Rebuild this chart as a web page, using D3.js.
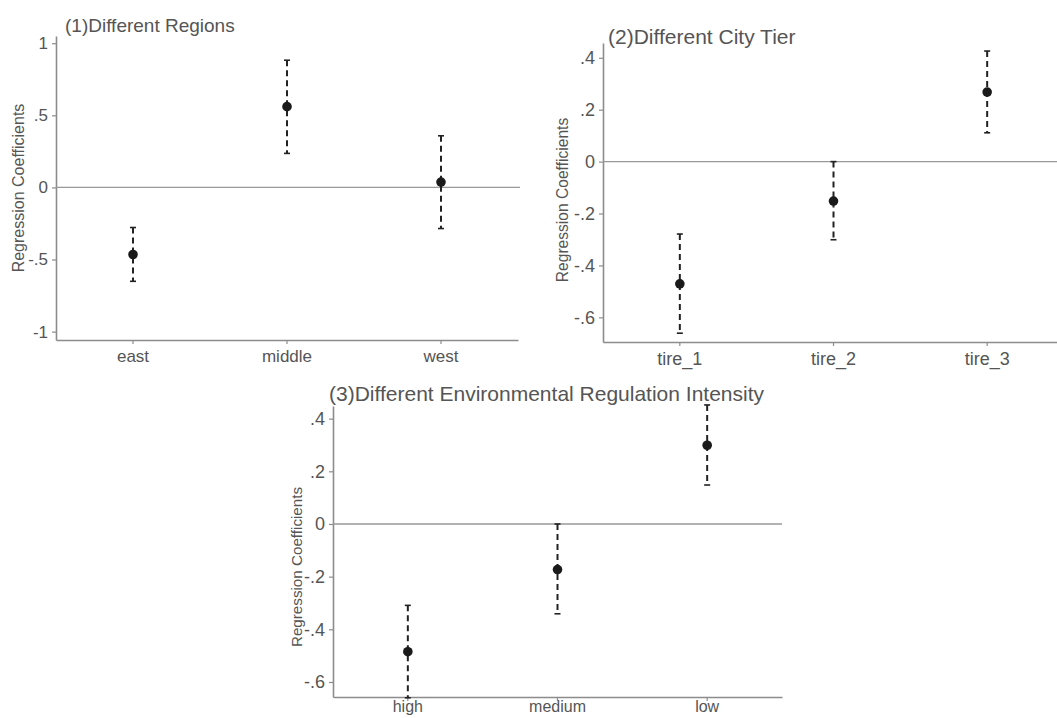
<!DOCTYPE html>
<html>
<head>
<meta charset="utf-8">
<script src="https://cdn.jsdelivr.net/npm/d3@7"></script>
<style>
  body { margin: 0; background: #fff; }
  svg { display: block; font-family: "Liberation Sans", Arial, sans-serif; }
</style>
</head>
<body>
<svg id="chart" width="1057" height="718"></svg>
<script>
// panel 1: regions
const regionCats = ['east', 'middle', 'west'];
const regionCoef = [-0.465, 0.56, 0.037];
const regionLow = [-0.651, 0.236, -0.285];
const regionHigh = [-0.278, 0.882, 0.358];
const regionTicks = [-1, -0.5, 0, 0.5, 1];

// panel 2: city tier
const tierCats = ['tire_1', 'tire_2', 'tire_3'];
const tierCoef = [-0.471, -0.152, 0.268];
const tierLow = [-0.661, -0.301, 0.111];
const tierHigh = [-0.279, 0.0, 0.426];
const tierTicks = [-0.6, -0.4, -0.2, 0, 0.2, 0.4];

// panel 3: environmental regulation intensity
const regCats = ['high', 'medium', 'low'];
const regCoef = [-0.485, -0.173, 0.299];
const regLow = [-0.66, -0.341, 0.148];
const regHigh = [-0.309, 0.0, 0.452];
const regTicks = [-0.6, -0.4, -0.2, 0, 0.2, 0.4];

const svg = d3.select('#chart');
const textColor = '#555';
const axisColor = '#8c8c8c';

// stata style tick labels: .5, -.5, 0, 1
function stataFmt(v) {
	if (v === 0) return '0';
	let s = String(Math.round(v * 100) / 100);
	return s.replace(/^(-?)0\./, '$1.');
}

function drawPanel(p) {
	const g = svg.append('g');
	const x = d3.scaleBand().domain(p.cats).range([p.left, p.right]).padding(0);
	const y = d3.scaleLinear().domain(p.domain).range([p.bottom, p.top]);

	const yAxis = g.append('g')
		.attr('transform', `translate(${p.left},0)`)
		.call(d3.axisLeft(y).tickValues(p.ticks).tickFormat(stataFmt).tickSize(4).tickPadding(4).tickSizeOuter(0));
	const xAxis = g.append('g')
		.attr('transform', `translate(0,${p.bottom})`)
		.call(d3.axisBottom(x).tickSize(4).tickPadding(p.xPad).tickSizeOuter(0));

	yAxis.selectAll('.tick text').style('font-size', p.tickFont + 'px');
	xAxis.selectAll('.tick text').style('font-size', p.xFont + 'px');
	[yAxis, xAxis].forEach((a) => {
		a.select('.domain').attr('stroke', axisColor).attr('stroke-width', 1.6);
		a.selectAll('.tick line').attr('stroke', axisColor).attr('stroke-width', 1.2);
		a.selectAll('.tick text').attr('fill', textColor);
	});

	// zero reference line
	g.append('line')
		.attr('x1', p.left).attr('x2', p.lineEnd)
		.attr('y1', y(0)).attr('y2', y(0))
		.attr('stroke', '#999').attr('stroke-width', 1.3);

	const rows = p.cats.map((c, i) => ({ cat: c, coef: p.coef[i], lo: p.lo[i], hi: p.hi[i] }));
	const cx = (d) => x(d.cat) + x.bandwidth() / 2;

	g.selectAll('.ci').data(rows).join('line')
		.attr('class', 'ci')
		.attr('x1', cx).attr('x2', cx)
		.attr('y1', (d) => y(d.hi)).attr('y2', (d) => y(d.lo))
		.attr('stroke', '#222').attr('stroke-width', 2)
		.attr('stroke-dasharray', '6,4');

	['hi', 'lo'].forEach((k) => {
		g.selectAll('.cap-' + k).data(rows).join('line')
			.attr('class', 'cap-' + k)
			.attr('x1', (d) => cx(d) - 3).attr('x2', (d) => cx(d) + 3)
			.attr('y1', (d) => y(d[k])).attr('y2', (d) => y(d[k]))
			.attr('stroke', '#222').attr('stroke-width', 1.6);
	});

	g.selectAll('.pt').data(rows).join('circle')
		.attr('class', 'pt')
		.attr('cx', cx).attr('cy', (d) => y(d.coef))
		.attr('r', 4.8)
		.attr('fill', '#1a1a1a');

	g.append('text')
		.attr('x', p.titleX).attr('y', p.titleY)
		.attr('fill', textColor)
		.style('font-size', p.titleFont + 'px')
		.text(p.title);

	g.append('text')
		.attr('transform', `translate(${p.labelX},${p.labelY}) rotate(-90)`)
		.attr('text-anchor', 'middle')
		.attr('fill', textColor)
		.style('font-size', p.labelFont + 'px')
		.text('Regression Coefficients');
}

drawPanel({
	cats: regionCats, coef: regionCoef, lo: regionLow, hi: regionHigh, ticks: regionTicks,
	left: 56, right: 518, lineEnd: 520, top: 36, bottom: 340, domain: [-1.058, 1.05],
	title: '(1)Different Regions', titleX: 65, titleY: 32, titleFont: 19,
	labelX: 24, labelY: 188, labelFont: 16, tickFont: 17, xFont: 17, xPad: 6
});

drawPanel({
	cats: tierCats, coef: tierCoef, lo: tierLow, hi: tierHigh, ticks: tierTicks,
	left: 603, right: 1064, lineEnd: 1064, top: 43, bottom: 342, domain: [-0.695, 0.457],
	title: '(2)Different City Tier', titleX: 608, titleY: 44, titleFont: 21,
	labelX: 568, labelY: 200, labelFont: 15.6, tickFont: 18, xFont: 18, xPad: 6
});

drawPanel({
	cats: regCats, coef: regCoef, lo: regLow, hi: regHigh, ticks: regTicks,
	left: 333, right: 782, lineEnd: 782, top: 406, bottom: 697, domain: [-0.657, 0.448],
	title: '(3)Different Environmental Regulation Intensity', titleX: 329, titleY: 401, titleFont: 21,
	labelX: 302, labelY: 567, labelFont: 15.2, tickFont: 18, xFont: 16, xPad: 0
});
</script>
</body>
</html>
